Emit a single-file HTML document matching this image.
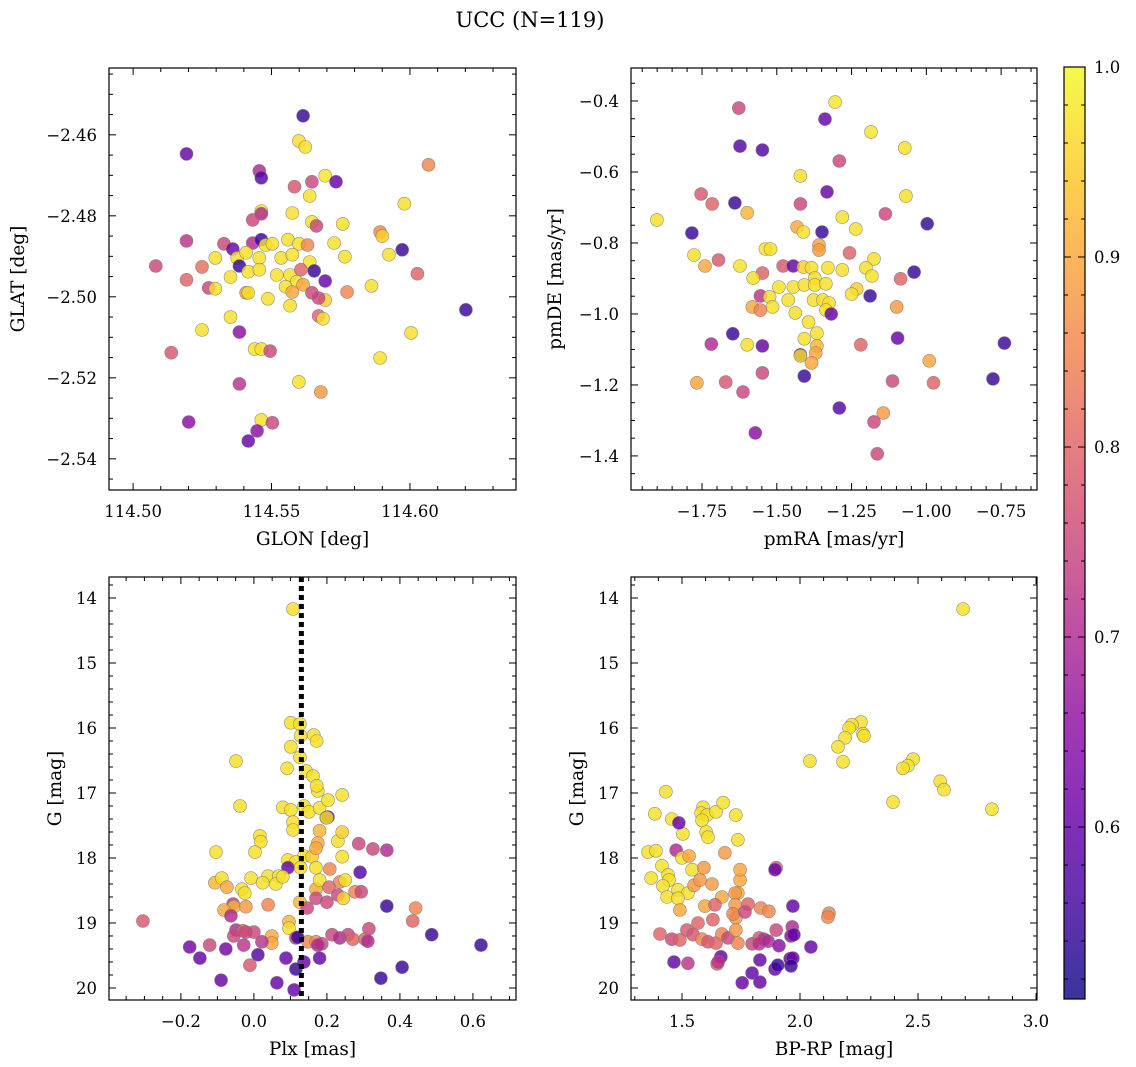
<!DOCTYPE html>
<html><head><meta charset="utf-8"><style>
html,body{margin:0;padding:0;background:#fff}
svg{display:block;font-family:"DejaVu Serif","Liberation Serif",serif}
</style></head><body>
<svg id="fig" width="1136" height="1067" viewBox="0 0 1136 1067">
<defs><linearGradient id="plasma" x1="0" y1="1" x2="0" y2="0"></linearGradient></defs>
<text x="530" y="27" font-size="21" text-anchor="middle">UCC (N=119)</text>
</svg>
<script>
// Panel 1: GLON vs GLAT
const glon1=[114.5193,114.5614,114.5599,114.5622,114.6067,114.5456,114.5463,114.5694,114.5733,114.5646,114.5583,114.5638,114.5980,114.5463,114.5463,114.5575,114.5432,114.5646,114.5662,114.5757,114.5193,114.5328,114.5360,114.5432,114.5463,114.5479,114.5503,114.5559,114.5599,114.5630,114.5726,114.5892,114.5900,114.5972,114.5924,114.5082,114.5249,114.5297,114.5376,114.5408,114.5456,114.5535,114.5575,114.5638,114.5765,114.5384,114.5416,114.5456,114.5519,114.5567,114.5606,114.5654,114.5694,114.6027,114.5193,114.5352,114.5591,114.5614,114.5551,114.5861,114.5273,114.5297,114.5408,114.5416,114.5575,114.5646,114.5773,114.5487,114.5694,114.5670,114.5567,114.6202,114.5670,114.5686,114.5352,114.5249,114.5384,114.6004,114.5138,114.5439,114.5463,114.5495,114.5892,114.5599,114.5384,114.5678,114.5463,114.5201,114.5503,114.5448,114.5416];
const glat1=[-2.4647,-2.4553,-2.4615,-2.4630,-2.4674,-2.4689,-2.4706,-2.4701,-2.4716,-2.4716,-2.4728,-2.4751,-2.4770,-2.4788,-2.4795,-2.4793,-2.4810,-2.4815,-2.4825,-2.4820,-2.4862,-2.4869,-2.4882,-2.4867,-2.4859,-2.4872,-2.4869,-2.4859,-2.4869,-2.4872,-2.4867,-2.4840,-2.4850,-2.4884,-2.4896,-2.4924,-2.4926,-2.4904,-2.4904,-2.4891,-2.4904,-2.4904,-2.4896,-2.4914,-2.4901,-2.4924,-2.4938,-2.4933,-2.4946,-2.4946,-2.4933,-2.4936,-2.4961,-2.4943,-2.4958,-2.4951,-2.4963,-2.4970,-2.4975,-2.4973,-2.4978,-2.4980,-2.4990,-2.4990,-2.4988,-2.4990,-2.4988,-2.5005,-2.5008,-2.5003,-2.5022,-2.5032,-2.5047,-2.5054,-2.5050,-2.5082,-2.5087,-2.5089,-2.5138,-2.5129,-2.5129,-2.5134,-2.5151,-2.5210,-2.5215,-2.5235,-2.5304,-2.5309,-2.5311,-2.5331,-2.5356];
const prob1=[.6,.55,.97,.97,.85,.7,.58,.98,.6,.75,.78,.97,.97,.97,.7,.97,.75,.97,.75,.97,.72,.75,.6,.7,.55,.97,.97,.97,.97,.85,.97,.85,.95,.55,.97,.75,.82,.97,.97,.97,.97,.97,.97,.97,.97,.55,.97,.97,.97,.97,.8,.55,.6,.8,.8,.97,.97,.9,.97,.97,.75,.97,.88,.97,.9,.75,.85,.97,.95,.75,.97,.55,.8,.97,.97,.97,.65,.97,.78,.97,.97,.75,.97,.97,.72,.88,.97,.65,.75,.65,.6];
// Panel 2: pmRA vs pmDE
const pmra2=[-1.305,-1.627,-1.185,-1.339,-1.623,-1.548,-1.072,-1.291,-1.421,-1.332,-1.753,-1.068,-1.901,-1.640,-1.716,-1.599,-1.421,-1.137,-1.281,-1.349,-1.784,-1.432,-1.411,-1.236,-0.997,-1.359,-1.359,-1.777,-1.257,-1.695,-1.740,-1.623,-1.538,-1.521,-1.548,-1.479,-1.445,-1.411,-1.384,-1.329,-1.281,-1.175,-1.202,-1.041,-1.579,-1.373,-1.182,-1.086,-1.493,-1.445,-1.408,-1.373,-1.336,-1.233,-1.250,-1.555,-1.524,-1.188,-1.514,-1.462,-1.377,-1.346,-1.325,-1.582,-1.555,-1.099,-1.438,-1.336,-1.318,-1.394,-1.366,-1.647,-1.408,-1.096,-1.719,-1.548,-1.599,-1.219,-0.739,-1.366,-1.370,-1.421,-1.421,-1.384,-0.990,-1.548,-1.408,-1.671,-1.767,-0.777,-1.113,-0.976,-1.613,-1.291,-1.144,-1.175,-1.572,-1.164];
const pmde2=[-0.403,-0.420,-0.487,-0.451,-0.527,-0.538,-0.532,-0.569,-0.611,-0.656,-0.662,-0.668,-0.735,-0.687,-0.690,-0.715,-0.690,-0.718,-0.727,-0.769,-0.772,-0.755,-0.769,-0.761,-0.746,-0.806,-0.820,-0.834,-0.828,-0.848,-0.865,-0.865,-0.817,-0.817,-0.885,-0.865,-0.865,-0.868,-0.870,-0.870,-0.876,-0.845,-0.870,-0.882,-0.899,-0.899,-0.893,-0.901,-0.924,-0.924,-0.918,-0.918,-0.915,-0.930,-0.944,-0.949,-0.952,-0.949,-0.980,-0.961,-0.961,-0.961,-0.969,-0.980,-0.989,-0.980,-0.997,-0.989,-1.000,-1.023,-1.054,-1.056,-1.070,-1.068,-1.085,-1.090,-1.087,-1.087,-1.082,-1.090,-1.110,-1.115,-1.118,-1.138,-1.132,-1.166,-1.175,-1.192,-1.194,-1.183,-1.189,-1.194,-1.220,-1.265,-1.279,-1.304,-1.335,-1.394];
const prob2=[.98,.75,.98,.6,.58,.58,.97,.75,.97,.6,.78,.97,.97,.55,.8,.92,.75,.75,.97,.55,.55,.9,.97,.97,.55,.9,.88,.97,.8,.78,.9,.97,.97,.97,.8,.78,.6,.95,.97,.97,.97,.97,.97,.55,.97,.97,.97,.8,.97,.97,.97,.97,.97,.95,.97,.72,.97,.55,.97,.97,.97,.97,.97,.9,.85,.88,.97,.97,.6,.97,.97,.55,.97,.6,.7,.6,.97,.8,.55,.92,.9,.6,.97,.9,.9,.75,.55,.78,.9,.55,.75,.8,.75,.58,.88,.75,.65,.75];
// Panel 3: Plx vs G
const plx3=[0.107,0.101,0.126,0.164,0.172,0.128,0.101,0.126,0.091,0.143,-0.049,0.162,0.175,0.172,0.242,0.079,0.101,0.137,0.151,0.180,0.203,0.198,-0.038,0.016,0.019,0.003,-0.104,0.107,0.107,0.203,0.180,0.175,0.230,0.326,0.364,0.242,0.200,0.137,0.093,0.115,0.128,0.159,0.170,0.093,0.170,0.287,0.291,0.242,0.208,0.039,0.068,0.060,-0.008,-0.033,-0.025,-0.107,-0.088,-0.074,0.024,0.079,0.170,0.180,0.235,0.250,0.277,0.294,0.206,-0.057,-0.055,-0.022,-0.082,-0.063,0.039,0.126,0.146,0.200,0.230,0.170,0.245,0.364,0.443,0.435,-0.304,-0.049,-0.030,-0.022,0.000,0.096,0.096,-0.055,0.049,0.049,0.115,0.148,0.170,0.186,0.214,0.235,0.258,0.271,0.315,0.304,0.487,-0.121,-0.077,-0.176,0.022,-0.028,0.011,0.120,0.175,-0.148,-0.011,0.137,0.115,0.180,-0.090,0.063,0.348,0.406,0.622,0.312,0.088,0.110];
const g3=[14.17,15.92,15.94,16.11,16.20,16.12,16.29,16.45,16.62,16.66,16.51,16.74,16.97,16.89,17.03,17.22,17.26,17.20,17.29,17.23,17.11,17.38,17.20,17.66,17.75,17.91,17.91,17.45,17.57,17.37,17.58,17.77,17.74,17.86,17.88,17.60,17.38,17.97,18.03,18.06,18.15,17.98,18.15,18.15,17.85,17.78,18.22,17.98,18.17,18.28,18.28,18.40,18.31,18.48,18.54,18.38,18.31,18.45,18.38,18.29,18.48,18.34,18.37,18.34,18.52,18.52,18.45,18.71,18.75,18.75,18.80,18.89,18.72,18.68,18.77,18.68,18.57,18.62,18.62,18.74,18.77,18.97,18.97,19.11,19.12,19.14,19.14,18.98,19.08,19.20,19.20,19.31,19.23,19.29,19.29,19.32,19.18,19.23,19.18,19.25,19.09,19.25,19.18,19.34,19.40,19.37,19.29,19.34,19.49,19.22,19.34,19.54,19.65,19.60,19.71,19.54,19.88,19.92,19.85,19.68,19.34,19.28,19.54,20.03];
const prob3=[.97,.97,.97,.97,.97,.97,.97,.97,.97,.97,.97,.97,.97,.97,.97,.97,.97,.97,.97,.97,.97,.97,.97,.97,.97,.97,.97,.97,.97,.6,.92,.9,.97,.75,.7,.95,.97,.97,.97,.97,.97,.95,.97,.6,.9,.75,.58,.97,.85,.97,.97,.97,.97,.97,.97,.92,.97,.9,.97,.97,.9,.97,.85,.97,.85,.75,.8,.72,.92,.88,.9,.7,.85,.92,.75,.75,.75,.75,.95,.55,.85,.8,.78,.7,.8,.75,.75,.92,.97,.75,.9,.9,.72,.85,.85,.75,.75,.7,.75,.8,.75,.8,.55,.75,.62,.62,.72,.72,.58,.55,.7,.6,.78,.6,.55,.6,.6,.6,.55,.55,.55,.7,.6,.6];
// Panel 4: BP-RP vs G
const bprp4=[2.691,2.258,2.220,2.208,2.267,2.271,2.191,2.161,2.042,2.182,2.479,2.457,2.436,2.594,2.610,2.394,2.813,1.589,1.581,1.606,1.644,1.674,1.432,1.585,1.457,1.385,1.504,1.602,1.728,1.487,1.610,1.737,1.356,1.390,1.475,1.500,1.415,1.530,1.682,1.543,1.441,1.445,1.419,1.369,1.483,1.525,1.437,1.483,1.551,1.593,1.576,1.627,1.669,1.746,1.737,1.899,1.894,1.746,1.725,1.491,1.597,1.640,1.725,1.780,1.728,1.568,1.631,1.716,1.767,1.834,1.868,1.970,2.123,2.118,1.407,1.457,1.491,1.521,1.547,1.585,1.610,1.644,1.669,1.695,1.737,1.797,1.827,1.847,1.899,1.967,1.962,1.728,2.046,1.827,1.865,1.911,1.466,1.525,1.649,1.665,1.830,1.958,1.970,1.894,1.797,1.755,1.830,1.653,1.974,1.962,1.906];
const g4=[14.17,15.91,15.95,16.00,16.09,16.12,16.15,16.29,16.51,16.52,16.48,16.58,16.62,16.82,16.95,17.14,17.25,17.22,17.31,17.34,17.29,17.15,16.98,17.42,17.40,17.32,17.63,17.60,17.34,17.46,17.68,17.72,17.91,17.89,17.88,18.00,18.12,17.97,17.92,18.18,18.26,18.34,18.43,18.31,18.49,18.54,18.60,18.62,18.42,18.15,18.34,18.40,18.60,18.34,18.54,18.15,18.18,18.18,18.54,18.80,18.74,18.72,18.72,18.71,18.92,19.00,18.95,18.86,18.83,18.77,18.82,18.74,18.85,18.91,19.17,19.25,19.26,19.11,19.18,19.25,19.29,19.31,19.17,19.23,19.31,19.32,19.23,19.25,19.11,19.06,19.20,19.11,19.37,19.32,19.28,19.35,19.60,19.62,19.63,19.52,19.57,19.55,19.54,19.71,19.77,19.92,19.91,19.60,19.18,19.66,19.65];
const prob4=[.97,.97,.97,.97,.97,.97,.97,.97,.97,.97,.97,.97,.97,.97,.97,.97,.97,.97,.97,.97,.97,.97,.97,.97,.97,.97,.97,.97,.97,.6,.97,.97,.97,.97,.7,.97,.97,.9,.88,.97,.97,.97,.97,.97,.97,.97,.97,.97,.88,.88,.88,.88,.9,.9,.9,.8,.6,.9,.88,.9,.9,.8,.88,.8,.88,.8,.8,.85,.75,.85,.85,.6,.85,.85,.8,.75,.8,.78,.78,.85,.78,.8,.85,.75,.85,.75,.78,.72,.75,.7,.65,.88,.6,.72,.7,.65,.6,.72,.8,.6,.6,.6,.6,.6,.6,.6,.6,.72,.6,.55,.55];
// colorbar
const cbTicks=[0.6,0.7,0.8,0.9,1.0];
const cbMin=0.5095, cbMax=1.0;
const plxLine=0.13;

const NS='http://www.w3.org/2000/svg';
const svg=document.getElementById('fig');
const stops=[[13,8,135],[65,4,157],[106,0,168],[143,13,164],[177,42,144],[204,71,120],[225,100,98],[242,132,75],[252,166,54],[252,206,37],[240,249,33]];
function plasma(t){t=Math.max(0,Math.min(1,t));const f=t*10,i=Math.min(9,Math.floor(f)),r=f-i;const a=stops[i],b=stops[i+1];return 'rgb('+a.map((v,k)=>Math.round(v+(b[k]-v)*r)).join(',')+')';}
function mk(tag,attrs,parent){const e=document.createElementNS(NS,tag);for(const k in attrs)e.setAttribute(k,attrs[k]);(parent||svg).appendChild(e);return e;}
function fmt(v,d){const s=Math.abs(v).toFixed(d);return (v< -1e-9?'\u2212':'')+s;}
const TF=16.5, LF=18.5;

function panel(cfg){
  const g=mk('g',{});
  
  
  const X=v=>cfg.x0+(v-cfg.xd[0])/(cfg.xd[1]-cfg.xd[0])*(cfg.x1-cfg.x0);
  const Y=v=>cfg.y0+(v-cfg.yd[0])/(cfg.yd[1]-cfg.yd[0])*(cfg.y1-cfg.y0);
  const clip='c'+cfg.name;
  const cp=mk('clipPath',{id:clip},g);mk('rect',{x:cfg.x0,y:cfg.y0,width:cfg.x1-cfg.x0,height:cfg.y1-cfg.y0},cp);
  const pg=mk('g',{'clip-path':'url(#'+clip+')'},g);
  for(let i=0;i<cfg.xs.length;i++){
    const c=mk('circle',{cx:X(cfg.xs[i]).toFixed(1),cy:Y(cfg.ys[i]).toFixed(1),r:6.5,fill:plasma((cfg.ps[i]-cbMin)/(cbMax-cbMin)),'fill-opacity':0.82,stroke:'#777','stroke-opacity':0.8,'stroke-width':0.6},pg);
    
    
  }
  if(cfg.vline!==undefined){
    const l=mk('line',{x1:X(cfg.vline),x2:X(cfg.vline),y1:cfg.y0,y2:cfg.y1,stroke:'#000','stroke-width':5,'stroke-dasharray':'5 4'},pg);
    
    
  }
  const fr=mk('rect',{x:cfg.x0,y:cfg.y0,width:cfg.x1-cfg.x0,height:cfg.y1-cfg.y0,fill:'none',stroke:'#000','stroke-width':1.2},g);
  
  
  const tk=mk('g',{stroke:'#000','stroke-width':1},g);
  function ticksX(step,nsub,dec){
    const lo=Math.min(...cfg.xd),hi=Math.max(...cfg.xd),ms=step/nsub;
    for(let k=Math.ceil(lo/ms-1e-6);k*ms<=hi+1e-9;k++){
      const v=k*ms,x=X(v),maj=Math.abs(v/step-Math.round(v/step))<1e-6,L=maj?7:4;
      mk('line',{x1:x,x2:x,y1:cfg.y1,y2:cfg.y1-L},tk);mk('line',{x1:x,x2:x,y1:cfg.y0,y2:cfg.y0+L},tk);
      if(maj){const t=mk('text',{x:x,y:cfg.y1+27,'font-size':TF,'text-anchor':'middle'},g);t.textContent=fmt(v,dec);
        }
    }
  }
  function ticksY(step,nsub,dec){
    const lo=Math.min(...cfg.yd),hi=Math.max(...cfg.yd),ms=step/nsub;
    for(let k=Math.ceil(lo/ms-1e-6);k*ms<=hi+1e-9;k++){
      const v=k*ms,y=Y(v),maj=Math.abs(v/step-Math.round(v/step))<1e-6,L=maj?7:4;
      mk('line',{x1:cfg.x0,x2:cfg.x0+L,y1:y,y2:y},tk);mk('line',{x1:cfg.x1,x2:cfg.x1-L,y1:y,y2:y},tk);
      if(maj){const t=mk('text',{x:cfg.x0-12,y:y+6,'font-size':TF,'text-anchor':'end'},g);t.textContent=fmt(v,dec);
        }
    }
  }
  ticksX(cfg.xt[0],cfg.xt[1],cfg.xt[2]);ticksY(cfg.yt[0],cfg.yt[1],cfg.yt[2]);
  const xl=mk('text',{x:(cfg.x0+cfg.x1)/2,y:cfg.y1+55,'font-size':LF,'text-anchor':'middle'},g);xl.textContent=cfg.xlab;
  
  const yx=cfg.ylx,yy=(cfg.y0+cfg.y1)/2;
  const yl=mk('text',{x:yx,y:yy,'font-size':LF,'text-anchor':'middle',transform:'rotate(-90 '+yx+' '+yy+')'},g);yl.textContent=cfg.ylab;
  
}

panel({name:'glon-glat-panel',x0:109,x1:516,y0:68,y1:490,xd:[114.4913,114.6383],yd:[-2.4435,-2.5477],xs:glon1,ys:glat1,ps:prob1,xt:[0.05,5,2],yt:[0.02,4,2],xlab:'GLON [deg]',ylab:'GLAT [deg]',ylx:24});
panel({name:'pm-panel',x0:631,x1:1037,y0:68,y1:490,xd:[-1.9875,-0.630],yd:[-0.307,-1.496],xs:pmra2,ys:pmde2,ps:prob2,xt:[0.25,5,2],yt:[0.2,4,1],xlab:'pmRA [mas/yr]',ylab:'pmDE [mas/yr]',ylx:561});
panel({name:'plx-g-panel',x0:109,x1:516,y0:577,y1:1000,xd:[-0.397,0.718],yd:[13.677,20.185],xs:plx3,ys:g3,ps:prob3,xt:[0.2,4,1],yt:[1,5,0],xlab:'Plx [mas]',ylab:'G [mag]',ylx:61,vline:plxLine});
panel({name:'cmd-panel',x0:631,x1:1037,y0:577,y1:1000,xd:[1.284,3.004],yd:[13.677,20.185],xs:bprp4,ys:g4,ps:prob4,xt:[0.5,5,1],yt:[1,5,0],xlab:'BP-RP [mag]',ylab:'G [mag]',ylx:583});

const grad=document.getElementById('plasma');
for(let i=0;i<=20;i++){mk('stop',{offset:(i/20),'stop-color':plasma(i/20),'stop-opacity':0.82},grad);}
const cb=mk('g',{});
const cbx0=1064,cbx1=1085,cby0=67,cby1=999;
mk('rect',{x:cbx0,y:cby0,width:cbx1-cbx0,height:cby1-cby0,fill:'url(#plasma)',stroke:'#000','stroke-width':1.2},cb);
const CY=v=>cby1-(v-cbMin)/(cbMax-cbMin)*(cby1-cby0);
for(let k=Math.ceil(cbMin/0.02);k*0.02<=cbMax+1e-9;k++){const v=k*0.02,y=CY(v);const maj=Math.abs(v*10-Math.round(v*10))<1e-6;
  mk('line',{x1:cbx1,x2:cbx1-(maj?7:4),y1:y,y2:y,stroke:'#000','stroke-width':1},cb);mk('line',{x1:cbx0,x2:cbx0+(maj?7:4),y1:y,y2:y,stroke:'#000','stroke-width':1},cb);}
cbTicks.forEach(v=>{const t=mk('text',{x:cbx1+9,y:CY(v)+6,'font-size':TF},cb);t.textContent=v.toFixed(1);
  });
</script>
</body></html>
